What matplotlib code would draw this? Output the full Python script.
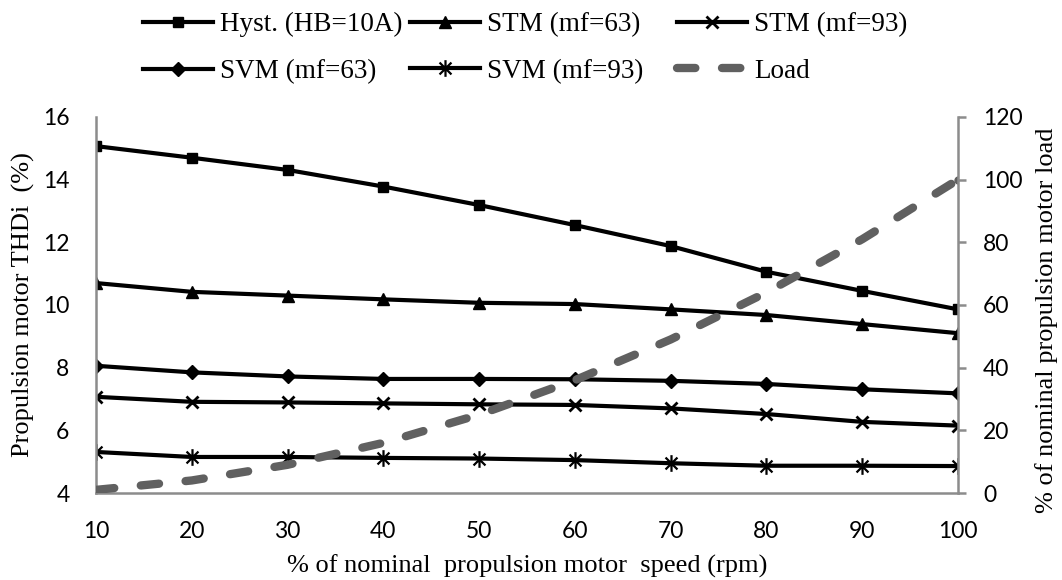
import matplotlib
matplotlib.use('Agg')
import matplotlib.pyplot as plt
from matplotlib.path import Path

# speed in % of nominal
speed = [10, 20, 30, 40, 50, 60, 70, 80, 90, 100]

# THDi values (%)
hyst   = [15.07, 14.70, 14.31, 13.78, 13.19, 12.55, 11.88, 11.06, 10.45, 9.86]
stm63  = [10.70, 10.42, 10.30, 10.18, 10.07, 10.03, 9.86, 9.68, 9.39, 9.10]
stm93  = [7.07, 6.91, 6.89, 6.86, 6.83, 6.81, 6.70, 6.52, 6.27, 6.15]
svm63  = [8.06, 7.85, 7.72, 7.64, 7.64, 7.63, 7.58, 7.48, 7.31, 7.18]
svm93  = [5.31, 5.15, 5.15, 5.12, 5.10, 5.05, 4.95, 4.87, 4.87, 4.86]

# load in % of nominal (right axis)
load = [1, 4, 9, 16, 25, 36, 49, 64, 81, 100]

left_ticks = [4, 6, 8, 10, 12, 14, 16]
right_ticks = [0, 20, 40, 60, 80, 100, 120]

serif = 'Liberation Serif'
sans = 'Lato'
grey = '#8c8c8c'

# excel style asterisk: an x with a vertical bar
star = Path([(-1, -1), (1, 1), (-1, 1), (1, -1), (0, -1.4), (0, 1.4)],
            [Path.MOVETO, Path.LINETO, Path.MOVETO, Path.LINETO, Path.MOVETO, Path.LINETO])

fig = plt.figure(figsize=(10.62, 5.8), dpi=100)
ax = fig.add_axes([0.0904, 0.15, 0.8117, 0.6483])

l1, = ax.plot(speed, hyst, color='k', lw=3, marker='s', ms=7.5, label='Hyst. (HB=10A)')
l2, = ax.plot(speed, stm63, color='k', lw=3, marker='^', ms=9, label='STM (mf=63)')
l3, = ax.plot(speed, stm93, color='k', lw=3, marker='x', ms=9, mew=2, label='STM (mf=93)')
l4, = ax.plot(speed, svm63, color='k', lw=3, marker='D', ms=7, label='SVM (mf=63)')
l5, = ax.plot(speed, svm93, color='k', lw=3, marker=star, ms=12, mew=1.6, mfc='none', label='SVM (mf=93)')

ax.set_xlim(10, 100)
ax.set_ylim(4, 16)
ax.set_xticks(speed)
ax.set_yticks(left_ticks)
for s in ['top', 'right']:
    ax.spines[s].set_visible(False)
for s in ['left', 'bottom']:
    ax.spines[s].set_color(grey)
    ax.spines[s].set_linewidth(1.8)
ax.tick_params(axis='y', length=0, pad=19, labelsize=16.5)
ax.tick_params(axis='x', length=0, pad=20, labelsize=16.5)
for t in ax.get_xticklabels() + ax.get_yticklabels():
    t.set_fontfamily(sans)

ax.set_xlabel('% of nominal  propulsion motor  speed (rpm)', fontfamily=serif, fontsize=19)
ax.xaxis.set_label_coords(0.5, -0.163)
ax.set_ylabel('Propulsion motor THDi  (%)', fontfamily=serif, fontsize=19)
ax.yaxis.set_label_coords(-0.071, 0.5)

# load on the right axis
ax2 = ax.twinx()
l6, = ax2.plot(speed, load, color='#606060', lw=6, dashes=(2.2, 3.2),
               dash_capstyle='round', label='Load')
ax2.plot(speed[-1:], load[-1:], 'o', color='#606060', ms=5)
ax2.set_ylim(0, 120)
ax2.set_yticks(right_ticks)
for s in ['top', 'left', 'bottom']:
    ax2.spines[s].set_visible(False)
ax2.spines['right'].set_color(grey)
ax2.spines['right'].set_linewidth(1.8)
ax2.tick_params(axis='y', length=6, width=1.8, color=grey, pad=12, labelsize=16.5)
for t in ax2.get_yticklabels():
    t.set_fontfamily(sans)
ax2.set_ylabel('% of nominal propulsion motor load', fontfamily=serif, fontsize=19)
ax2.yaxis.set_label_coords(1.089, 0.46)

# legend: 2 rows x 3 columns, one legend per column so they sit like excel's
columns = [(l1, l4), (l2, l5), (l3, l6)]
col_x = [143, 410, 677]
for hs, x in zip(columns, col_x):
    fig.legend(handles=list(hs), labels=[h.get_label() for h in hs],
               loc='upper left', bbox_to_anchor=(x / 1062, 0.979), frameon=False,
               prop={'family': serif, 'size': 19.5}, handlelength=2.6,
               handletextpad=0.26, labelspacing=0.8, borderpad=0, borderaxespad=0)

plt.savefig('out.png', dpi=100)
